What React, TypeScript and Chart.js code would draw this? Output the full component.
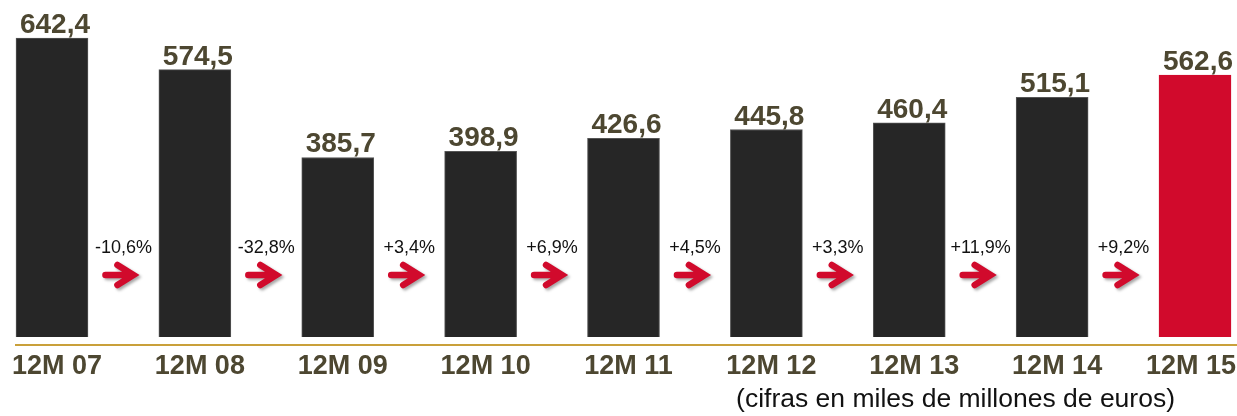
import React, { useEffect, useRef } from "react";
import { Chart, registerables } from "chart.js";

Chart.register(...registerables);

const categories = ["12M 07", "12M 08", "12M 09", "12M 10", "12M 11", "12M 12", "12M 13", "12M 14", "12M 15"];
const values = [642.4, 574.5, 385.7, 398.9, 426.6, 445.8, 460.4, 515.1, 562.6];
const changeLabels = ["-10,6%", "-32,8%", "+3,4%", "+6,9%", "+4,5%", "+3,3%", "+11,9%", "+9,2%"];
const highlightIndex = 8;
const footnote = "(cifras en miles de millones de euros)";

const FONT = "'Liberation Sans', Arial, Helvetica, sans-serif";
const DARK = "#262626";
const RED = "#d10a2c";
const OLIVE = "#4d4731";
const GOLD = "#c9a03a";

const fmt = (v: number) => v.toFixed(1).replace(".", ",");

const overlayPlugin = {
  id: "overlay",
  afterDatasetsDraw(chart: any) {
    const ctx = chart.ctx as CanvasRenderingContext2D;
    const bars = chart.getDatasetMeta(0).data;
    const area = chart.chartArea;
    const xScale = chart.scales.x;
    ctx.save();

    // base line
    const first = bars[0];
    ctx.strokeStyle = GOLD;
    ctx.lineWidth = 2;
    ctx.beginPath();
    ctx.moveTo(first.x - first.width / 2 - 1, area.bottom);
    ctx.lineTo(chart.width, area.bottom);
    ctx.stroke();

    // category labels (from the x scale positions, kept inside the canvas)
    ctx.fillStyle = OLIVE;
    ctx.font = `bold 27px ${FONT}`;
    ctx.textAlign = "center";
    ctx.textBaseline = "alphabetic";
    categories.forEach((c, i) => {
      const w = ctx.measureText(c).width;
      const x = Math.min(xScale.getPixelForValue(i) + 5, chart.width - w / 2 - 1);
      ctx.fillText(c, x, area.bottom + 29);
    });

    // value labels
    ctx.font = `bold 28px ${FONT}`;
    bars.forEach((b: any, i: number) => {
      ctx.fillText(fmt(values[i]), b.x + 3, b.y - 5);
    });

    // change labels and arrows
    for (let i = 0; i < changeLabels.length; i++) {
      const a = bars[i];
      const b = bars[i + 1];
      const mid = (a.x + b.x) / 2;
      ctx.fillStyle = "#111111";
      ctx.font = `18px ${FONT}`;
      ctx.textAlign = "center";
      ctx.fillText(changeLabels[i], mid, 253);

      const tip = mid + 13;
      const cy = 275;
      ctx.save();
      ctx.shadowColor = "rgba(0,0,0,0.35)";
      ctx.shadowBlur = 3;
      ctx.shadowOffsetX = 2;
      ctx.shadowOffsetY = 2;
      ctx.strokeStyle = RED;
      ctx.lineWidth = 6.5;
      ctx.lineCap = "round";
      ctx.lineJoin = "miter";
      ctx.beginPath();
      ctx.moveTo(tip - 31, cy);
      ctx.lineTo(tip - 5, cy);
      ctx.moveTo(tip - 19, cy - 10);
      ctx.lineTo(tip - 3, cy);
      ctx.lineTo(tip - 19, cy + 10);
      ctx.stroke();
      ctx.restore();
    }

    // footnote
    ctx.fillStyle = "#111111";
    ctx.font = `26.5px ${FONT}`;
    ctx.textAlign = "right";
    ctx.textBaseline = "alphabetic";
    ctx.fillText(footnote, chart.width - 62, chart.height - 9);

    ctx.restore();
  },
};

export default function App() {
  const canvasRef = useRef<HTMLCanvasElement | null>(null);

  useEffect(() => {
    if (!canvasRef.current) return;
    const chart = new Chart(canvasRef.current, {
      type: "bar",
      data: {
        labels: categories,
        datasets: [
          {
            data: values,
            backgroundColor: values.map((_, i) => (i === highlightIndex ? RED : DARK)),
            borderColor: values.map((_, i) => (i === highlightIndex ? RED : "#555555")),
            borderWidth: 1,
            barThickness: 72,
            clip: false as any,
          },
        ],
      },
      options: {
        animation: false,
        responsive: true,
        maintainAspectRatio: false,
        devicePixelRatio: 1,
        layout: { padding: { left: 52, right: 42, top: 30, bottom: 0 } },
        plugins: {
          legend: { display: false },
          tooltip: { enabled: false },
          title: { display: false },
        },
        scales: {
          x: {
            type: "category",
            offset: false,
            grid: { display: false, drawTicks: false },
            border: { display: false },
            ticks: { display: false },
            afterFit: (scale: any) => {
              scale.paddingLeft = 0;
              scale.paddingRight = 0;
              scale.height = 71;
            },
          },
          y: {
            display: false,
            min: -17.2,
            max: 659.6,
          },
        },
      },
      plugins: [overlayPlugin],
    });
    return () => chart.destroy();
  }, []);

  return (
    <div style={{ position: "absolute", left: 0, top: 0, width: 1237, height: 416, background: "#ffffff" }}>
      <canvas ref={canvasRef} />
    </div>
  );
}
